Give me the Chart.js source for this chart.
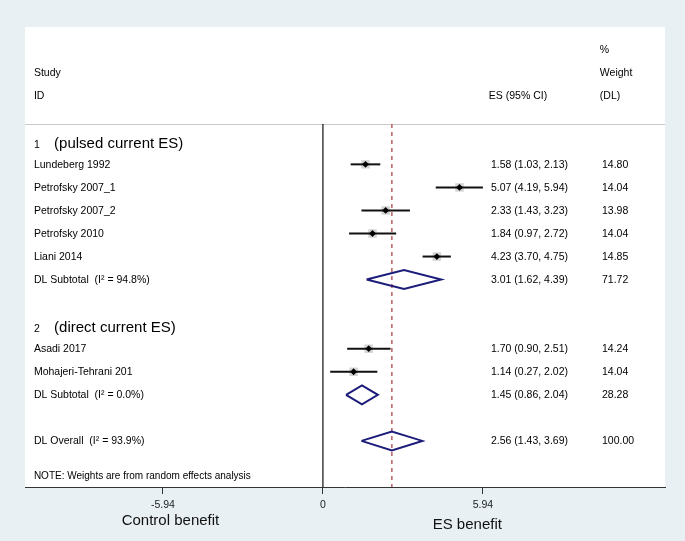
<!DOCTYPE html>
<html>
<head>
<meta charset="utf-8">
<script src="https://cdn.jsdelivr.net/npm/chart.js@4.4.1/dist/chart.umd.min.js"></script>
<style>
  html, body { margin: 0; padding: 0; background: #e8f0f3; }
  #wrap { width: 685px; height: 541px; position: relative; }
</style>
</head>
<body>
<div id="wrap"><canvas id="c"></canvas></div>
<script>
// ---- data ----
const studies = ['Lundeberg 1992', 'Petrofsky 2007_1', 'Petrofsky 2007_2', 'Petrofsky 2010', 'Liani 2014', 'Asadi 2017', 'Mohajeri-Tehrani 201'];
const studyRows = [2, 3, 4, 5, 6, 10, 11];
const studyEs = [1.58, 5.07, 2.33, 1.84, 4.23, 1.70, 1.14];
const studyLo = [1.03, 4.19, 1.43, 0.97, 3.70, 0.90, 0.27];
const studyHi = [2.13, 5.94, 3.23, 2.72, 4.75, 2.51, 2.02];
const studyWeights = ['14.80', '14.04', '13.98', '14.04', '14.85', '14.24', '14.04'];

const pooledLabels = ['DL Subtotal  (I\u00B2 = 94.8%)', 'DL Subtotal  (I\u00B2 = 0.0%)', 'DL Overall  (I\u00B2 = 93.9%)'];
const pooledRows = [7, 12, 14];
const pooledEs = [3.01, 1.45, 2.56];
const pooledLo = [1.62, 0.86, 1.43];
const pooledHi = [4.39, 2.04, 3.69];
const pooledWeights = ['71.72', '28.28', '100.00'];

const groupNums = ['1', '2'];
const groupLabels = ['(pulsed current ES)', '(direct current ES)'];
const groupRows = [1, 9];

const overallEs = 2.56;
const xTicks = [-5.94, 0, 5.94];
const xTickLabels = ['-5.94', '0', '5.94'];
const axisTitles = ['Control benefit', 'ES benefit'];
const noteText = 'NOTE: Weights are from random effects analysis';

// ---- styling constants ----
const FONT = '"Liberation Sans", Arial, Helvetica, sans-serif';
const BG = '#e8f0f3';
const TXT = '#000000';
const NAVY = '#1c1c7a';
const X_MIN = -11.06, X_MAX = 12.70;
const Y_MIN = -3.96, Y_MAX = 16.0;
const ROW_TOP = 0.25;       // header separator
const DIAMOND_H = 0.41;     // half height of pooled diamonds, in rows
const COL_STUDY = -10.73, COL_ES = 6.24, COL_ES_HEAD = 6.16, COL_W = 10.36, COL_W_HEAD = 10.28;
const GROUP_TXT_X = -9.98;
const TITLE_X = [-5.66, 5.36];
const TITLE_Y = [521, 525];

// ---- datasets ----
const datasets = [];
// point estimate black diamonds (on top)
datasets.push({
  data: studyEs.map((v, i) => ({ x: v, y: studyRows[i] })),
  pointStyle: 'rectRot', pointRadius: 3.4, backgroundColor: '#000', borderColor: '#000',
  borderWidth: 0, showLine: false, order: 0
});
// CI lines
studyEs.forEach((v, i) => {
  datasets.push({
    data: [{ x: studyLo[i], y: studyRows[i] }, { x: studyHi[i], y: studyRows[i] }],
    showLine: true, borderColor: '#111', borderWidth: 2, pointRadius: 0, order: 1
  });
});
// weight boxes
datasets.push({
  data: studyEs.map((v, i) => ({ x: v, y: studyRows[i] })),
  pointStyle: 'rect', pointRadius: 6, backgroundColor: '#d4d4d4', borderWidth: 0,
  showLine: false, order: 2
});
// pooled diamonds
pooledEs.forEach((v, i) => {
  const r = pooledRows[i];
  datasets.push({
    data: [
      { x: pooledLo[i], y: r }, { x: v, y: r - DIAMOND_H }, { x: pooledHi[i], y: r },
      { x: v, y: r + DIAMOND_H }, { x: pooledLo[i], y: r }
    ],
    showLine: true, borderColor: NAVY, borderWidth: 2, pointRadius: 0,
    tension: 0, borderJoinStyle: 'miter', order: 0
  });
});
// overall dashed line
datasets.push({
  data: [{ x: overallEs, y: ROW_TOP }, { x: overallEs, y: Y_MAX }],
  showLine: true, borderColor: '#b5525a', borderWidth: 1.4, borderDash: [4, 4],
  pointRadius: 0, order: 3
});
// null line
datasets.push({
  data: [{ x: 0, y: ROW_TOP }, { x: 0, y: Y_MAX }],
  showLine: true, borderColor: '#222', borderWidth: 1.3, pointRadius: 0, order: 4
});

const textPlugin = {
  id: 'forestText',
  beforeDraw(chart) {
    const { ctx, chartArea: a } = chart;
    ctx.save();
    ctx.fillStyle = BG;
    ctx.fillRect(0, 0, chart.width, chart.height);
    ctx.fillStyle = '#ffffff';
    ctx.fillRect(a.left, a.top, a.right - a.left, a.bottom - a.top);
    // header separator
    const ys = chart.scales.y.getPixelForValue(ROW_TOP);
    ctx.strokeStyle = '#c8c8c8';
    ctx.lineWidth = 1;
    ctx.beginPath();
    ctx.moveTo(a.left, Math.round(ys) + 0.5);
    ctx.lineTo(a.right, Math.round(ys) + 0.5);
    ctx.stroke();
    ctx.restore();
  },
  afterDraw(chart) {
    const { ctx } = chart;
    const xs = chart.scales.x, ysc = chart.scales.y;
    const X = v => xs.getPixelForValue(v);
    const Y = v => ysc.getPixelForValue(v);
    ctx.save();
    ctx.fillStyle = TXT;
    ctx.textBaseline = 'middle';
    ctx.textAlign = 'left';
    ctx.font = '10.5px ' + FONT;
    // headers
    ctx.fillText('%', X(COL_W_HEAD), Y(-2.95));
    ctx.fillText('Study', X(COL_STUDY), Y(-1.95));
    ctx.fillText('Weight', X(COL_W_HEAD), Y(-1.95));
    ctx.fillText('ID', X(COL_STUDY), Y(-0.95));
    ctx.fillText('ES (95% CI)', X(COL_ES_HEAD), Y(-0.95));
    ctx.fillText('(DL)', X(COL_W_HEAD), Y(-0.95));
    // groups
    groupRows.forEach((r, i) => {
      ctx.textBaseline = 'alphabetic';
      const base = Y(r) + 6.8;
      ctx.font = '10.5px ' + FONT;
      ctx.fillText(groupNums[i], X(COL_STUDY), base);
      ctx.font = '15px ' + FONT;
      ctx.fillText(groupLabels[i], X(GROUP_TXT_X), base);
    });
    ctx.textBaseline = 'middle';
    ctx.font = '10.5px ' + FONT;
    const fmt = v => v.toFixed(2);
    studies.forEach((s, i) => {
      const y = Y(studyRows[i]) + 0.5;
      ctx.fillText(s, X(COL_STUDY), y);
      ctx.fillText(fmt(studyEs[i]) + ' (' + fmt(studyLo[i]) + ', ' + fmt(studyHi[i]) + ')', X(COL_ES), y);
      ctx.fillText(studyWeights[i], X(COL_W), y);
    });
    pooledLabels.forEach((s, i) => {
      const y = Y(pooledRows[i]) + 0.5;
      ctx.fillText(s, X(COL_STUDY), y);
      ctx.fillText(fmt(pooledEs[i]) + ' (' + fmt(pooledLo[i]) + ', ' + fmt(pooledHi[i]) + ')', X(COL_ES), y);
      ctx.fillText(pooledWeights[i], X(COL_W), y);
    });
    ctx.font = '10px ' + FONT;
    ctx.fillText(noteText, X(COL_STUDY), Y(15.53));
    // axis titles
    ctx.font = '15px ' + FONT;
    ctx.textAlign = 'center';
    ctx.fillStyle = '#111';
    axisTitles.forEach((t, i) => ctx.fillText(t, X(TITLE_X[i]), TITLE_Y[i]));
    ctx.restore();
  }
};

new Chart(document.getElementById('c'), {
  type: 'scatter',
  data: { datasets },
  plugins: [textPlugin],
  options: {
    responsive: true,
    maintainAspectRatio: false,
    animation: false,
    events: [],
    layout: { padding: { left: 25, right: 20, top: 27, bottom: 0 } },
    plugins: { legend: { display: false }, tooltip: { enabled: false } },
    elements: { line: { tension: 0 } },
    scales: {
      x: {
        type: 'linear', min: X_MIN, max: X_MAX, position: 'bottom',
        afterBuildTicks: s => { s.ticks = xTicks.map(v => ({ value: v })); },
        afterFit: s => { s.height = 54; },
        ticks: {
          autoSkip: false, maxRotation: 0, padding: 5, color: '#222',
          font: { family: FONT, size: 10.5 },
          callback: (v) => xTickLabels[xTicks.indexOf(v)]
        },
        grid: { drawOnChartArea: false, drawTicks: true, tickLength: 7, color: '#333', lineWidth: 1 },
        border: { display: true, color: '#333', width: 1 }
      },
      y: {
        type: 'linear', min: Y_MIN, max: Y_MAX, reverse: true, display: false
      }
    }
  }
});
</script>
</body>
</html>
